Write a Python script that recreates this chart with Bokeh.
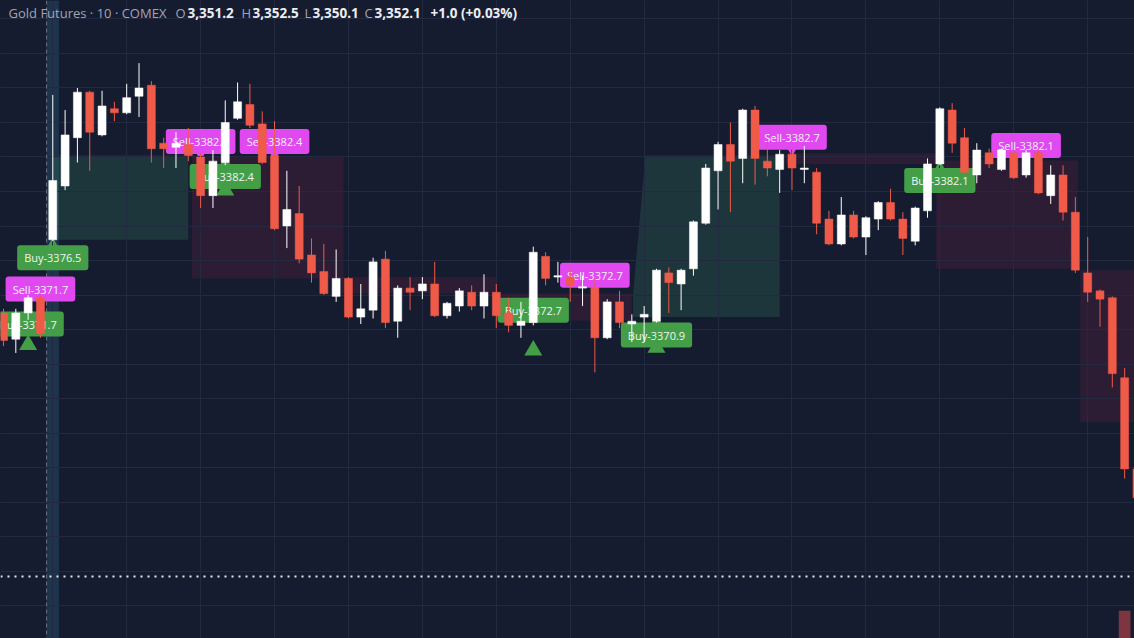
from bokeh.plotting import figure
from bokeh.models import Range1d, Label, Span, FixedTicker, ColumnDataSource
from bokeh.embed import file_html
from bokeh.resources import INLINE

# ---------------- data ----------------
opens = [3371.2, 3369.3, 3371.2, 3372.3, 3376.5, 3380.4, 3383.9, 3387.2, 3384.1, 3386.0,
         3385.7, 3386.9, 3387.7, 3383.5, 3383.2, 3383.4, 3382.5, 3379.7, 3382.1, 3385.3,
         3386.3, 3384.9, 3382.6, 3377.5, 3378.4, 3375.4, 3374.2, 3372.4, 3373.7, 3370.9,
         3371.4, 3375.1, 3370.6, 3373.0, 3372.8, 3373.3, 3371.0, 3371.7, 3372.7, 3371.7,
         3372.7, 3371.2, 3370.3, 3370.5, 3375.3, 3373.8, 3373.8, 3373.0, 3373.0, 3369.4,
         3372.0, 3370.4, 3370.9, 3370.6, 3374.1, 3373.3, 3374.4, 3377.7, 3381.5, 3383.4,
         3382.4, 3385.9, 3382.2, 3381.6, 3382.7, 3381.6, 3381.4, 3378.0, 3376.2, 3378.3,
         3376.7, 3378.0, 3379.2, 3378.0, 3376.4, 3378.6, 3382.0, 3385.9, 3383.9, 3381.2,
         3382.8, 3381.6, 3382.8, 3381.2, 3382.8, 3379.7, 3381.2, 3378.5, 3374.1, 3372.8,
         3372.3, 3366.5, 3359.9]
highs = [3371.5, 3371.5, 3372.5, 3372.5, 3387.0, 3385.9, 3387.5, 3387.3, 3387.3, 3386.5,
         3387.8, 3389.3, 3388.0, 3383.9, 3384.3, 3384.6, 3382.8, 3383.0, 3386.6, 3387.9,
         3387.8, 3385.8, 3385.1, 3381.5, 3380.4, 3376.6, 3376.2, 3375.8, 3373.8, 3373.3,
         3375.2, 3375.7, 3373.2, 3373.8, 3373.8, 3374.9, 3372.0, 3373.0, 3373.2, 3374.0,
         3373.3, 3372.3, 3372.0, 3376.0, 3375.6, 3374.9, 3374.4, 3373.9, 3373.7, 3372.2,
         3372.8, 3371.1, 3371.7, 3374.4, 3374.5, 3374.4, 3377.9, 3382.0, 3383.6, 3385.0,
         3386.0, 3386.2, 3383.7, 3383.0, 3383.0, 3383.3, 3381.7, 3378.6, 3379.6, 3378.6,
         3378.2, 3379.3, 3380.2, 3378.5, 3378.9, 3382.4, 3386.1, 3386.4, 3384.6, 3383.5,
         3383.1, 3383.1, 3383.0, 3383.0, 3383.0, 3381.9, 3381.9, 3379.6, 3376.7, 3372.9,
         3372.4, 3367.2, 3360.3]
lows = [3368.8, 3368.3, 3370.7, 3369.4, 3376.4, 3380.1, 3382.1, 3381.5, 3384.0, 3385.1,
        3385.6, 3385.4, 3382.1, 3381.7, 3381.7, 3382.2, 3378.8, 3378.8, 3381.9, 3385.2,
        3384.6, 3382.0, 3377.2, 3375.9, 3374.8, 3373.4, 3372.5, 3372.0, 3370.8, 3370.4,
        3370.8, 3370.1, 3369.4, 3371.4, 3372.2, 3370.9, 3370.8, 3371.3, 3371.4, 3370.8,
        3370.1, 3369.8, 3369.4, 3370.3, 3373.2, 3373.4, 3372.0, 3371.7, 3366.9, 3369.3,
        3370.1, 3369.1, 3369.1, 3370.5, 3371.2, 3371.4, 3373.9, 3377.6, 3378.7, 3378.5,
        3380.6, 3380.5, 3381.1, 3379.9, 3380.1, 3380.6, 3376.9, 3376.1, 3376.1, 3376.6,
        3375.4, 3377.2, 3377.9, 3375.4, 3376.1, 3378.1, 3381.9, 3382.8, 3381.3, 3380.6,
        3381.7, 3381.5, 3380.9, 3381.0, 3379.8, 3379.1, 3377.9, 3374.1, 3372.0, 3370.2,
        3365.8, 3359.2, 3357.2]
closes = [3369.2, 3371.2, 3372.3, 3369.7, 3380.8, 3384.1, 3387.2, 3384.3, 3386.2, 3385.7,
          3386.8, 3387.5, 3383.1, 3383.1, 3383.5, 3382.6, 3379.7, 3382.2, 3385.0, 3386.5,
          3384.8, 3382.1, 3377.3, 3378.7, 3375.1, 3374.1, 3372.6, 3373.7, 3370.9, 3371.5,
          3374.9, 3370.5, 3373.0, 3372.7, 3373.3, 3371.0, 3371.9, 3372.8, 3371.7, 3372.7,
          3371.0, 3370.3, 3370.6, 3375.6, 3373.7, 3373.9, 3373.2, 3373.1, 3369.4, 3372.0,
          3370.5, 3370.6, 3371.1, 3374.3, 3373.4, 3374.3, 3377.8, 3381.7, 3383.4, 3382.2,
          3385.9, 3382.4, 3381.7, 3382.7, 3381.7, 3381.7, 3377.7, 3376.2, 3378.3, 3376.7,
          3378.1, 3379.2, 3378.0, 3376.6, 3378.8, 3382.0, 3386.0, 3383.5, 3381.4, 3383.0,
          3382.0, 3383.0, 3381.0, 3382.8, 3379.9, 3381.2, 3378.5, 3374.3, 3372.7, 3372.2,
          3366.8, 3359.9, 3357.8]

# signal labels
sig_bars = [2, 3, 4, 16, 18, 22, 43, 48, 53, 64, 76, 83]
sig_side = ["Buy", "Sell", "Buy", "Sell", "Buy", "Sell", "Buy", "Sell", "Buy", "Sell", "Buy", "Sell"]
sig_price = [3371.7, 3371.7, 3376.5, 3382.4, 3382.4, 3382.4, 3372.7, 3372.7, 3370.9, 3382.7, 3382.1, 3382.1]
# buy shapes below bars
buy_shape_bars = [2, 18, 43, 53]

# trade zones: left bar, right bar, top price, bottom price, kind
zone_left = [4.0, 15.3, 27.4, 40.0, 63.5, 75.7, 87.4]
zone_right = [15.0, 27.6, 40.0, 51.0, 75.7, 87.2, 92.5]
zone_top = [3382.6, 3382.5, 3373.8, 3372.6, 3382.75, 3382.25, 3374.3]
zone_bottom = [3376.5, 3373.7, 3372.6, 3370.65, 3382.0, 3374.4, 3363.3]
zone_kind = ["tp", "sl", "sl", "sl", "sl", "sl", "sl"]
# slanted green zone
zone2_x = [52.1, 63.0, 63.0, 51.1, 51.1]
zone2_y = [3382.6, 3382.6, 3370.9, 3370.9, 3372.5]

# volume (only the tallest bar reaches the visible pane)
vol_bars = [91]
vol_vals = [870]

# header
hdr_title = "Gold Futures · 10 · COMEX"
hdr_o, hdr_h, hdr_l, hdr_c = "3,351.2", "3,352.5", "3,350.1", "3,352.1"
hdr_chg = "+1.0 (+0.03%)"
last_price = 3352.1

grid_prices = [3347.5 + 2.5 * k for k in range(20)]
grid_bars = [-2 + 6 * k for k in range(17)]
session_bar = 4

# ---------------- style ----------------
W, H = 1134, 638
BG = "#161c30"
UP = "#ffffff"
DN = "#f05a48"
GREEN = "#449e48"
MAGENTA = "#e048f0"
FONT = "Open Sans"

X0, X1 = -0.2435, 91.80
Y0, Y1 = 3347.61, 3393.84
dx = (X1 - X0) / W
dy = (Y1 - Y0) / H

p = figure(width=W, height=H, x_range=Range1d(X0, X1), y_range=Range1d(Y0, Y1),
           output_backend="svg", toolbar_location=None, min_border=0,
           x_axis_location=None, y_axis_location=None,
           background_fill_color=BG, border_fill_color=BG, outline_line_color=None)
p.xgrid.ticker = FixedTicker(ticks=grid_bars)
p.ygrid.ticker = FixedTicker(ticks=grid_prices)
p.grid.grid_line_color = "#222940"
p.grid.grid_line_width = 1

# session highlight band + dashed line
r = p.vbar(x=[session_bar], width=1.0, top=Y1 + 10, bottom=Y0 - 10,
           fill_color="#2a5a7a", fill_alpha=0.4, line_color=None)
r.level = "underlay"
p.add_layout(Span(location=session_bar - 0.5, dimension="height", line_color="#6e7387",
                  line_dash="4 3", line_width=1, level="underlay"))

# zones
zcol = ["#2f7a5c" if k == "tp" else "#b0285a" for k in zone_kind]
zalp = [0.28 if k == "tp" else 0.15 for k in zone_kind]
zsrc = ColumnDataSource(dict(left=zone_left, right=zone_right, top=zone_top,
                             bottom=zone_bottom, c=zcol, a=zalp))
r = p.quad(left="left", right="right", top="top", bottom="bottom", fill_color="c",
           fill_alpha="a", line_color=None, source=zsrc)
r.level = "underlay"
r = p.patch(zone2_x, zone2_y, fill_color="#2f7a5c", fill_alpha=0.28, line_color=None)
r.level = "underlay"

# signal labels (under candles)
for b, s, pr in zip(sig_bars, sig_side, sig_price):
    col = GREEN if s == "Buy" else MAGENTA
    lab = Label(x=b, y=pr, text=f"{s}-{pr:.1f}", text_align="center", text_baseline="middle",
                y_offset=-18 if s == "Buy" else 17,
                text_font=FONT, text_font_size="11px", text_color="#f3f3f3",
                background_fill_color=col, background_fill_alpha=1.0,
                border_radius=3, padding=(7, 5), level="underlay")
    p.add_layout(lab)
bb = [b for b, s in zip(sig_bars, sig_side) if s == "Buy"]
bp = [pr - 3.5 * dy for pr, s in zip(sig_price, sig_side) if s == "Buy"]
sb = [b for b, s in zip(sig_bars, sig_side) if s == "Sell"]
sp = [pr + 3.5 * dy for pr, s in zip(sig_price, sig_side) if s == "Sell"]
r = p.scatter(bb, bp, marker="triangle", size=10, fill_color=GREEN, line_color=None)
r.level = "underlay"
r = p.scatter(sb, sp, marker="inverted_triangle", size=10, fill_color=MAGENTA, line_color=None)
r.level = "underlay"

# buy shapes
r = p.scatter(buy_shape_bars, [lows[b] - 25 * dy for b in buy_shape_bars], marker="triangle",
              size=18, fill_color=GREEN, line_color=None)

# volume
p.extra_y_ranges = {"vol": Range1d(0, 20000)}
p.vbar(x=vol_bars, width=0.95, top=vol_vals, bottom=0, y_range_name="vol",
       fill_color="#ef5350", fill_alpha=0.48, line_color=None)

# candles
idx = list(range(len(opens)))
cols = [UP if closes[i] >= opens[i] else DN for i in idx]
src = ColumnDataSource(dict(x=idx, o=opens, h=highs, l=lows, c=closes,
                            top=[max(opens[i], closes[i]) for i in idx],
                            bot=[min(opens[i], closes[i]) for i in idx], col=cols))
p.segment(x0="x", y0="h", x1="x", y1="l", line_color="col", line_width=1, source=src)
p.vbar(x="x", width=0.65, top="top", bottom="bot", fill_color="col", line_color="col",
       line_width=0.5, source=src)

# last price line
p.add_layout(Span(location=last_price, dimension="width", line_color="#e6e8ee",
                  line_dash="2 5", line_width=2))

# header
hy = Y1 - 12.5 * dy
def hdr(px, text, color, bold=False, size="13px"):
    p.add_layout(Label(x=X0 + px * dx, y=hy, text=text, text_align="left",
                       text_baseline="middle", text_font=FONT, text_font_size=size,
                       text_color=color, text_font_style="bold" if bold else "normal",
                       level="overlay"))
GRAY = "#a2a5b0"
WH = "#eceef3"
VS = "13.5px"
hdr(8, hdr_title, GRAY)
hdr(175, "O", GRAY); hdr(187, hdr_o, WH, True, VS)
hdr(241, "H", GRAY); hdr(252, hdr_h, WH, True, VS)
hdr(304, "L", GRAY); hdr(312, hdr_l, WH, True, VS)
hdr(364, "C", GRAY); hdr(374, hdr_c, WH, True, VS)
hdr(430, hdr_chg, WH, True, VS)

html = file_html(p, INLINE)
html = html.replace("<head>", "<head><style>html,body{background:%s;}</style>" % BG, 1)
open("out.html", "w").write(html)
